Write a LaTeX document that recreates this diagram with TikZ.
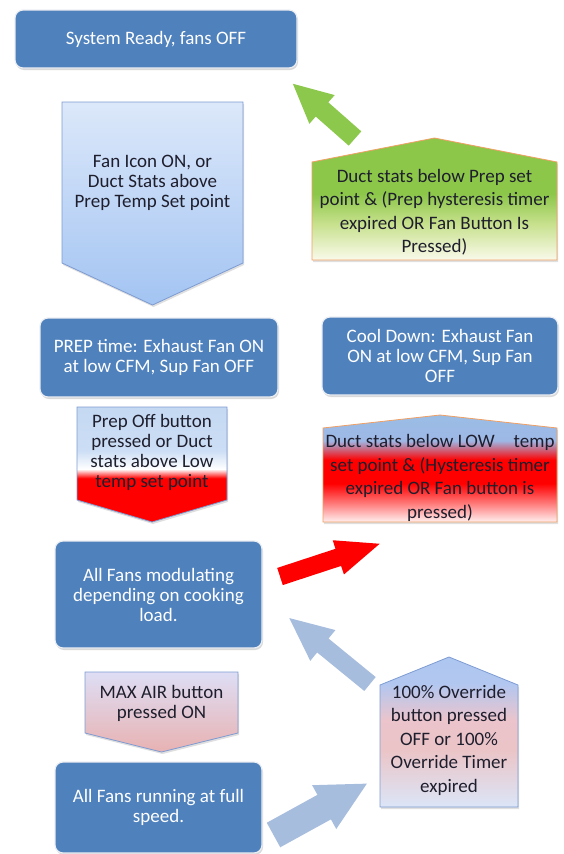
\documentclass[tikz,border=0pt]{standalone}
\usepackage{fontspec}
\setmainfont{Carlito}
\usetikzlibrary{arrows.meta,shadows}

\definecolor{boxblue}{RGB}{79,129,189}
\definecolor{boxedge}{RGB}{235,238,242}
\definecolor{chevline}{RGB}{125,155,210}
\definecolor{orangeline}{RGB}{240,160,100}
\definecolor{txtdark}{RGB}{30,30,45}
\definecolor{arrgreen}{RGB}{140,200,75}
\definecolor{arrgrey}{RGB}{167,189,222}

\pgfdeclareverticalshading{prepoff}{100bp}{rgb(0bp)=(1,0,0); rgb(44bp)=(1,0,0); rgb(48bp)=(1,1,1); rgb(56bp)=(0.80,0.87,0.96); rgb(75bp)=(0.77,0.85,0.95); rgb(100bp)=(0.77,0.85,0.95)}
\pgfdeclareverticalshading{lowstat}{100bp}{rgb(0bp)=(1,0.95,0.95); rgb(25bp)=(1,0.94,0.94); rgb(40bp)=(1,0.15,0.15); rgb(43bp)=(1,0,0); rgb(54bp)=(1,0,0); rgb(63bp)=(0.62,0.72,0.90); rgb(75bp)=(0.60,0.74,0.90); rgb(100bp)=(0.60,0.74,0.90)}
\pgfdeclareverticalshading{prepstat}{100bp}{rgb(0bp)=(0.98,0.98,0.92); rgb(25bp)=(0.98,0.98,0.92); rgb(40bp)=(0.78,0.88,0.55); rgb(52bp)=(0.55,0.78,0.29); rgb(75bp)=(0.55,0.78,0.29); rgb(100bp)=(0.55,0.78,0.29)}
\pgfdeclareverticalshading{override}{100bp}{rgb(0bp)=(0.86,0.90,0.97); rgb(25bp)=(0.86,0.90,0.97); rgb(44bp)=(0.92,0.77,0.78); rgb(54bp)=(0.92,0.77,0.80); rgb(66bp)=(0.70,0.78,0.94); rgb(75bp)=(0.68,0.78,0.94); rgb(100bp)=(0.68,0.78,0.94)}

\begin{document}
\begin{tikzpicture}[x=1pt,y=-1pt,
state/.style={draw=boxedge, line width=1.2pt, fill=boxblue, rounded corners=8pt, text=white, align=center,
  font=\fontsize{19}{20}\selectfont, drop shadow={shadow xshift=1pt,shadow yshift=-2pt,opacity=.3}},
cond/.style={line width=0.8pt, drop shadow={shadow xshift=1pt,shadow yshift=-2pt,opacity=.25}},
lbl/.style={align=center, text=txtdark, inner sep=0, font=\fontsize{19}{20}\selectfont},
plbl/.style={lbl, font=\fontsize{19}{23.5}\selectfont},
blockarr/.style={line width=#1}]
\useasboundingbox (0,0) rectangle (564,854);

% states
\node[state, minimum width=282pt, minimum height=58pt] at (156,39) (ready) {System Ready, fans OFF};
\node[state, minimum width=238pt, minimum height=79pt] at (159,357.5) (prep) {PREP time: Exhaust Fan ON\\at low CFM, Sup Fan OFF};
\node[state, minimum width=236pt, minimum height=78pt] at (440,356) (cool) {Cool Down: Exhaust Fan\\ON at low CFM, Sup Fan\\OFF};
\node[state, minimum width=207pt, minimum height=107pt] at (158.5,594.5) (modul) {All Fans modulating\\depending on cooking\\load.};
\node[state, minimum width=207pt, minimum height=91pt] at (158.5,807.5) (full) {All Fans running at full\\speed.};

% conditions
\path[cond, draw=chevline, top color={rgb,255:red,220;green,232;blue,250}, bottom color={rgb,255:red,163;green,196;blue,242}]
  (62,102) -- (243,102) -- (243,263) -- (152.5,305) -- (62,263) -- cycle;
\node[lbl] at (152.5,183) (fanon) {Fan Icon ON, or\\Duct Stats above\\Prep Temp Set point};

\path[cond, draw=chevline, shading=prepoff] (77,407) -- (227,407) -- (227,500) -- (152,522) -- (77,500) -- cycle;
\node[lbl] at (152,452) (prepoff) {Prep Off button\\pressed or Duct\\stats above Low\\temp set point};

\path[cond, draw=chevline, top color={rgb,255:red,222;green,222;blue,245}, bottom color={rgb,255:red,232;green,178;blue,178}]
  (85,672) -- (238,672) -- (238,733) -- (161.5,752) -- (85,733) -- cycle;
\node[lbl] at (161.5,703) (maxair) {MAX AIR button\\pressed ON};

\path[cond, draw=orangeline, shading=prepstat] (312,162) -- (434.5,138) -- (557,162) -- (557,260) -- (312,260) -- cycle;
\node[plbl] at (434.5,212) (belowprep) {Duct stats below Prep set\\point \& (Prep hysteresis timer\\expired OR Fan Button Is\\Pressed)};

\path[cond, draw=orangeline, shading=lowstat] (323,428) -- (440,415) -- (557,428) -- (557,522) -- (323,522) -- cycle;
\node[plbl] at (440,478) (belowlow) {Duct stats below LOW\hspace{1em}temp\\set point \& (Hysteresis timer\\expired OR Fan button is\\pressed)};

\path[cond, draw=chevline, shading=override] (380,685) -- (449,657) -- (518,685) -- (518,807) -- (380,807) -- cycle;
\node[plbl] at (449,740) (ovr) {100\% Override\\button pressed\\OFF or 100\%\\Override Timer\\expired};

% block arrows
\coordinate (g tail) at (355,138.5);
\coordinate (g tip) at (292,83);
\coordinate (r tail) at (280,576.5);
\coordinate (r tip) at (382,543);
\coordinate (o tail) at (370,684);
\coordinate (o tip) at (288,617);
\coordinate (f tail) at (273.5,835);
\coordinate (f tip) at (368,783);
\draw[blockarr=19pt, arrgreen, -{Triangle[length=40pt,width=35pt]}] (g tail) -- (g tip);
\draw[blockarr=18pt, red, -{Triangle[length=46pt,width=32pt]}] (r tail) -- (r tip);
\draw[blockarr=18pt, arrgrey, -{Triangle[length=45pt,width=36pt]}] (o tail) -- (o tip);
\draw[blockarr=28pt, arrgrey, -{Triangle[length=50pt,width=46pt]}] (f tail) -- (f tip);
\end{tikzpicture}
\end{document}
